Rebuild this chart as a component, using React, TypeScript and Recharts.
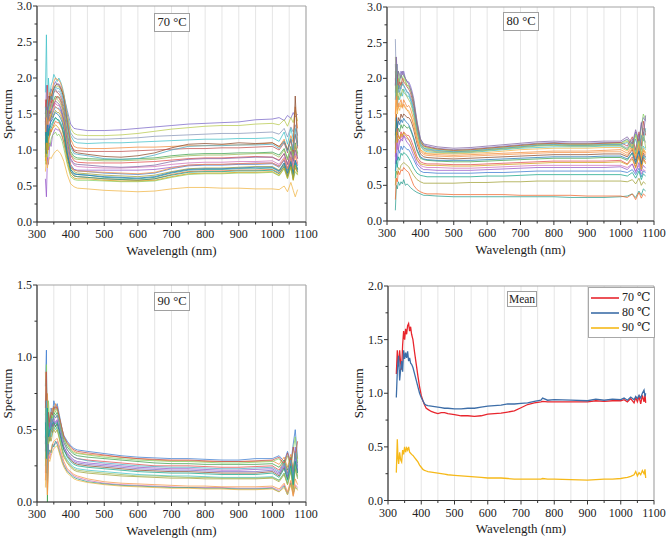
import React from 'react';
import { LineChart, Line, XAxis, YAxis, CartesianGrid, ReferenceArea, Legend } from 'recharts';

// ---------- data ----------
const wavelengths = [325, 328, 331, 334, 338, 342, 346, 350, 355, 360, 365, 370, 375, 380, 390, 400, 410, 420, 450, 500, 550, 600, 650, 700, 750, 800, 850, 900, 950, 1000, 1020, 1035, 1045, 1055, 1062, 1068, 1075];

const spectra70 = [
  [1.5, 1.9, 1.6, 1.75, 1.7, 1.85, 1.8, 1.9, 1.95, 1.9, 1.92, 1.88, 1.82, 1.75, 1.55, 1.36, 1.3, 1.29, 1.27, 1.27, 1.28, 1.3, 1.32, 1.34, 1.36, 1.37, 1.38, 1.39, 1.42, 1.43, 1.45, 1.41, 1.48, 1.44, 1.52, 1.46, 1.5],
  [1.3, 1.6, 1.45, 1.7, 1.6, 1.75, 1.8, 1.85, 1.9, 1.88, 1.88, 1.85, 1.8, 1.72, 1.5, 1.3, 1.23, 1.21, 1.2, 1.2, 1.21, 1.23, 1.26, 1.29, 1.31, 1.33, 1.34, 1.34, 1.36, 1.37, 1.35, 1.42, 1.33, 1.45, 1.38, 1.55, 1.4],
  [1.4, 1.2, 1.55, 1.5, 1.65, 1.6, 1.7, 1.8, 1.85, 1.8, 1.82, 1.78, 1.72, 1.65, 1.42, 1.24, 1.17, 1.15, 1.15, 1.15, 1.16, 1.17, 1.19, 1.2, 1.21, 1.22, 1.23, 1.23, 1.24, 1.25, 1.22, 1.3, 1.18, 1.32, 1.25, 1.35, 1.2],
  [1.8, 2.6, 1.5, 2.0, 1.7, 1.9, 1.95, 2.05, 2.0, 1.95, 2.0, 1.95, 1.88, 1.78, 1.5, 1.2, 1.12, 1.1, 1.09, 1.1, 1.1, 1.11, 1.12, 1.13, 1.14, 1.15, 1.15, 1.16, 1.16, 1.17, 1.12, 1.25, 1.08, 1.3, 1.15, 1.2, 1.1],
  [1.6, 1.3, 1.7, 1.5, 1.8, 1.7, 1.85, 1.95, 2.0, 1.98, 1.97, 1.93, 1.85, 1.75, 1.45, 1.15, 1.05, 1.03, 1.02, 1.02, 1.03, 1.04, 1.04, 1.05, 1.06, 1.06, 1.07, 1.07, 1.08, 1.1, 1.04, 1.15, 1.0, 1.2, 1.1, 1.6, 1.3],
  [1.5, 1.7, 1.4, 1.6, 1.75, 1.7, 1.8, 1.85, 1.9, 1.92, 1.9, 1.86, 1.8, 1.7, 1.38, 1.08, 0.98, 0.96, 0.94, 0.91, 0.9, 0.92, 0.96, 1.03, 1.08, 1.09, 1.08, 1.1, 1.09, 1.1, 1.05, 1.12, 1.0, 1.15, 0.95, 1.75, 1.05],
  [1.2, 1.5, 1.35, 1.45, 1.55, 1.5, 1.6, 1.7, 1.75, 1.72, 1.74, 1.7, 1.64, 1.55, 1.25, 0.98, 0.91, 0.89, 0.88, 0.87, 0.87, 0.88, 0.89, 0.92, 0.94, 0.95, 0.95, 0.96, 0.96, 0.97, 0.93, 1.02, 0.88, 1.05, 0.9, 1.1, 0.95],
  [1.7, 1.4, 1.9, 1.6, 1.5, 1.65, 1.7, 1.6, 1.7, 1.75, 1.72, 1.68, 1.6, 1.5, 1.2, 0.93, 0.85, 0.83, 0.82, 0.82, 0.82, 0.83, 0.84, 0.86, 0.88, 0.89, 0.89, 0.9, 0.91, 0.9, 0.86, 0.95, 0.8, 0.98, 0.85, 1.05, 0.88],
  [1.3, 1.1, 1.5, 1.3, 1.45, 1.4, 1.55, 1.6, 1.65, 1.62, 1.62, 1.58, 1.5, 1.4, 1.12, 0.86, 0.79, 0.77, 0.76, 0.75, 0.75, 0.76, 0.77, 0.8, 0.82, 0.83, 0.83, 0.84, 0.84, 0.85, 0.8, 0.9, 0.75, 0.92, 0.8, 0.95, 0.82],
  [1.0, 1.4, 1.2, 1.35, 1.3, 1.45, 1.5, 1.55, 1.6, 1.58, 1.58, 1.55, 1.48, 1.38, 1.05, 0.8, 0.73, 0.71, 0.7, 0.68, 0.67, 0.66, 0.68, 0.74, 0.78, 0.79, 0.79, 0.8, 0.8, 0.81, 0.76, 0.86, 0.72, 0.9, 0.75, 0.85, 0.78],
  [1.4, 1.0, 1.3, 1.5, 1.4, 1.5, 1.45, 1.5, 1.55, 1.52, 1.52, 1.48, 1.42, 1.32, 1.0, 0.76, 0.7, 0.68, 0.67, 0.65, 0.64, 0.63, 0.65, 0.7, 0.74, 0.75, 0.75, 0.76, 0.77, 0.77, 0.72, 0.82, 0.7, 0.85, 0.68, 0.8, 0.74],
  [0.9, 1.2, 1.0, 1.3, 1.2, 1.3, 1.35, 1.4, 1.45, 1.42, 1.42, 1.38, 1.32, 1.22, 0.95, 0.73, 0.67, 0.66, 0.65, 0.62, 0.61, 0.6, 0.62, 0.68, 0.72, 0.73, 0.73, 0.74, 0.74, 0.75, 0.7, 0.8, 0.66, 0.82, 0.7, 0.78, 0.72],
  [1.1, 0.8, 1.2, 1.0, 1.3, 1.25, 1.3, 1.35, 1.4, 1.38, 1.38, 1.34, 1.28, 1.18, 0.9, 0.7, 0.64, 0.63, 0.62, 0.6, 0.59, 0.58, 0.6, 0.66, 0.7, 0.71, 0.71, 0.72, 0.72, 0.73, 0.68, 0.78, 0.64, 0.8, 0.62, 0.75, 0.7],
  [0.6, 0.35, 0.9, 0.8, 1.1, 1.05, 1.2, 1.25, 1.3, 1.28, 1.28, 1.24, 1.18, 1.1, 0.92, 0.77, 0.73, 0.72, 0.72, 0.72, 0.72, 0.72, 0.73, 0.76, 0.79, 0.8, 0.8, 0.81, 0.82, 0.82, 0.78, 0.86, 0.74, 0.88, 0.76, 0.84, 0.8],
  [0.8, 1.0, 0.9, 1.1, 1.05, 1.15, 1.2, 1.22, 1.25, 1.2, 1.22, 1.18, 1.12, 1.02, 0.8, 0.63, 0.59, 0.58, 0.58, 0.57, 0.56, 0.56, 0.57, 0.62, 0.66, 0.67, 0.67, 0.68, 0.68, 0.69, 0.64, 0.74, 0.6, 0.76, 0.58, 0.7, 0.65],
  [0.7, 0.9, 0.75, 0.85, 0.9, 0.88, 0.92, 0.95, 0.98, 1.0, 0.98, 0.95, 0.9, 0.84, 0.66, 0.53, 0.49, 0.47, 0.46, 0.44, 0.43, 0.42, 0.43, 0.46, 0.48, 0.48, 0.47, 0.47, 0.46, 0.46, 0.45, 0.5, 0.42, 0.55, 0.44, 0.35, 0.45],
  [1.35, 1.65, 1.5, 1.6, 1.7, 1.65, 1.75, 1.8, 1.82, 1.8, 1.78, 1.74, 1.68, 1.6, 1.35, 1.08, 1.0, 0.99, 0.98, 0.98, 0.98, 0.99, 1.0, 1.01, 1.02, 1.02, 1.03, 1.03, 1.04, 1.05, 1.0, 1.1, 0.96, 1.14, 0.98, 1.22, 1.02],
  [1.6, 1.35, 1.7, 1.55, 1.65, 1.75, 1.7, 1.82, 1.88, 1.85, 1.86, 1.82, 1.76, 1.66, 1.34, 1.04, 0.95, 0.94, 0.92, 0.88, 0.87, 0.88, 0.93, 1.0, 1.05, 1.06, 1.06, 1.07, 1.07, 1.08, 1.02, 1.12, 0.98, 1.16, 1.0, 1.3, 1.06],
  [1.25, 1.55, 1.4, 1.5, 1.6, 1.58, 1.65, 1.7, 1.72, 1.7, 1.68, 1.64, 1.58, 1.48, 1.18, 0.95, 0.88, 0.87, 0.86, 0.85, 0.85, 0.86, 0.87, 0.9, 0.92, 0.93, 0.93, 0.94, 0.95, 0.95, 0.9, 1.0, 0.86, 1.03, 0.88, 1.08, 0.92],
  [1.45, 1.2, 1.6, 1.4, 1.5, 1.55, 1.6, 1.65, 1.68, 1.66, 1.64, 1.6, 1.52, 1.42, 1.12, 0.88, 0.81, 0.8, 0.79, 0.77, 0.76, 0.77, 0.79, 0.84, 0.87, 0.88, 0.88, 0.89, 0.9, 0.9, 0.85, 0.95, 0.8, 0.98, 0.84, 1.0, 0.88],
  [1.15, 1.45, 1.3, 1.4, 1.45, 1.5, 1.52, 1.58, 1.6, 1.58, 1.56, 1.52, 1.45, 1.35, 1.02, 0.78, 0.72, 0.71, 0.7, 0.69, 0.68, 0.67, 0.69, 0.75, 0.79, 0.8, 0.8, 0.81, 0.81, 0.82, 0.77, 0.88, 0.74, 0.9, 0.72, 0.92, 0.8],
  [1.25, 0.95, 1.35, 1.2, 1.35, 1.4, 1.42, 1.48, 1.52, 1.5, 1.48, 1.44, 1.38, 1.28, 0.96, 0.73, 0.67, 0.66, 0.65, 0.63, 0.62, 0.61, 0.63, 0.69, 0.73, 0.74, 0.74, 0.75, 0.76, 0.76, 0.71, 0.82, 0.68, 0.84, 0.66, 0.86, 0.73],
  [0.95, 1.25, 1.1, 1.25, 1.3, 1.35, 1.38, 1.42, 1.45, 1.43, 1.4, 1.36, 1.3, 1.2, 0.9, 0.7, 0.64, 0.63, 0.62, 0.6, 0.59, 0.58, 0.6, 0.65, 0.69, 0.7, 0.7, 0.71, 0.71, 0.72, 0.67, 0.77, 0.63, 0.79, 0.6, 0.82, 0.69],
  [0.85, 1.1, 0.95, 1.15, 1.2, 1.25, 1.3, 1.32, 1.35, 1.33, 1.3, 1.26, 1.2, 1.1, 0.84, 0.66, 0.61, 0.6, 0.6, 0.58, 0.57, 0.57, 0.58, 0.63, 0.67, 0.68, 0.68, 0.69, 0.69, 0.7, 0.65, 0.75, 0.61, 0.77, 0.58, 0.79, 0.66],
];

const spectra80 = [
  [2.2, 1.8, 2.1, 1.9, 2.0, 2.1, 2.05, 2.1, 2.0, 1.95, 1.95, 1.9, 1.82, 1.72, 1.4, 1.15, 1.07, 1.05, 1.02, 1.0, 1.01, 1.03, 1.05, 1.07, 1.09, 1.1, 1.09, 1.09, 1.1, 1.1, 1.15, 1.05, 1.25, 1.1, 1.35, 1.45, 1.4],
  [2.3, 2.0, 1.7, 2.0, 1.85, 1.95, 1.9, 2.0, 1.95, 1.9, 1.9, 1.85, 1.78, 1.68, 1.36, 1.12, 1.04, 1.02, 1.0, 0.98, 0.99, 1.01, 1.03, 1.05, 1.07, 1.08, 1.07, 1.07, 1.08, 1.08, 1.12, 1.0, 1.2, 1.05, 1.15, 1.3, 1.25],
  [2.55, 1.9, 2.2, 1.8, 1.9, 1.85, 1.95, 1.9, 1.85, 1.8, 1.8, 1.75, 1.68, 1.58, 1.3, 1.09, 1.02, 1.0, 0.98, 0.97, 0.98, 1.0, 1.02, 1.04, 1.06, 1.07, 1.06, 1.06, 1.07, 1.07, 1.02, 1.15, 0.98, 1.22, 1.0, 1.18, 1.1],
  [1.8, 2.1, 1.6, 1.75, 1.7, 1.8, 1.75, 1.85, 1.8, 1.75, 1.75, 1.7, 1.62, 1.52, 1.25, 1.05, 0.99, 0.97, 0.96, 0.95, 0.96, 0.98, 1.0, 1.02, 1.03, 1.04, 1.04, 1.04, 1.05, 1.05, 1.0, 1.1, 0.95, 1.12, 0.9, 1.05, 1.0],
  [1.5, 1.9, 1.7, 1.6, 1.65, 1.7, 1.6, 1.7, 1.65, 1.6, 1.62, 1.58, 1.5, 1.42, 1.18, 1.0, 0.95, 0.94, 0.93, 0.92, 0.93, 0.94, 0.95, 0.96, 0.97, 0.98, 0.98, 0.98, 0.99, 1.0, 0.95, 1.05, 0.9, 1.08, 0.88, 1.0, 0.95],
  [1.2, 1.5, 1.3, 1.45, 1.4, 1.5, 1.45, 1.5, 1.48, 1.45, 1.45, 1.42, 1.36, 1.28, 1.08, 0.94, 0.9, 0.89, 0.88, 0.87, 0.88, 0.89, 0.9, 0.91, 0.92, 0.93, 0.93, 0.93, 0.94, 0.94, 0.9, 1.0, 0.85, 1.02, 0.82, 0.95, 0.9],
  [1.0, 1.4, 1.2, 1.3, 1.25, 1.35, 1.3, 1.35, 1.33, 1.3, 1.32, 1.28, 1.22, 1.15, 0.98, 0.88, 0.86, 0.85, 0.84, 0.83, 0.83, 0.84, 0.85, 0.86, 0.87, 0.88, 0.88, 0.88, 0.89, 0.89, 0.85, 0.95, 0.8, 0.97, 0.78, 0.9, 0.86],
  [0.9, 1.2, 1.3, 1.2, 1.15, 1.25, 1.2, 1.25, 1.22, 1.2, 1.2, 1.16, 1.1, 1.04, 0.9, 0.83, 0.81, 0.8, 0.8, 0.79, 0.79, 0.8, 0.81, 0.82, 0.83, 0.84, 0.84, 0.84, 0.84, 0.85, 0.8, 0.9, 0.76, 0.92, 0.75, 0.88, 0.82],
  [0.8, 1.1, 1.0, 1.15, 1.1, 1.2, 1.15, 1.2, 1.18, 1.15, 1.15, 1.1, 1.04, 0.98, 0.85, 0.78, 0.76, 0.75, 0.75, 0.74, 0.74, 0.75, 0.76, 0.77, 0.78, 0.78, 0.78, 0.78, 0.78, 0.78, 0.75, 0.8, 0.7, 0.78, 0.66, 0.72, 0.7],
  [0.7, 0.95, 0.85, 1.0, 0.95, 1.05, 1.0, 1.05, 1.03, 1.0, 1.0, 0.96, 0.91, 0.86, 0.76, 0.7, 0.68, 0.68, 0.67, 0.67, 0.67, 0.68, 0.68, 0.69, 0.7, 0.7, 0.7, 0.7, 0.7, 0.7, 0.68, 0.72, 0.65, 0.74, 0.62, 0.7, 0.68],
  [0.5, 0.7, 0.65, 0.75, 0.72, 0.78, 0.8, 0.82, 0.8, 0.78, 0.76, 0.72, 0.68, 0.64, 0.58, 0.55, 0.53, 0.53, 0.53, 0.53, 0.54, 0.54, 0.55, 0.55, 0.56, 0.56, 0.56, 0.56, 0.56, 0.56, 0.55, 0.58, 0.52, 0.6, 0.5, 0.55, 0.52],
  [0.15, 0.5, 0.45, 0.55, 0.5, 0.55, 0.52, 0.58, 0.5, 0.52, 0.5, 0.47, 0.45, 0.43, 0.4, 0.38, 0.36, 0.36, 0.35, 0.34, 0.34, 0.34, 0.34, 0.34, 0.34, 0.34, 0.33, 0.33, 0.33, 0.34, 0.35, 0.38, 0.33, 0.42, 0.36, 0.45, 0.42],
  [0.3, 0.6, 0.55, 0.7, 0.65, 0.72, 0.7, 0.75, 0.72, 0.7, 0.68, 0.62, 0.56, 0.5, 0.44, 0.41, 0.39, 0.38, 0.38, 0.37, 0.37, 0.37, 0.37, 0.36, 0.36, 0.36, 0.36, 0.35, 0.35, 0.35, 0.33, 0.38, 0.3, 0.4, 0.32, 0.38, 0.35],
  [1.1, 0.8, 1.2, 1.0, 1.1, 1.15, 1.12, 1.2, 1.15, 1.1, 1.08, 1.04, 0.98, 0.92, 0.8, 0.75, 0.72, 0.72, 0.71, 0.71, 0.71, 0.72, 0.73, 0.74, 0.75, 0.75, 0.75, 0.75, 0.75, 0.76, 0.72, 0.8, 0.68, 0.82, 0.7, 0.78, 0.74],
  [1.9, 2.2, 1.9, 2.1, 1.95, 2.05, 2.0, 2.05, 1.98, 1.9, 1.88, 1.84, 1.76, 1.65, 1.35, 1.13, 1.06, 1.03, 1.01, 0.99, 1.0, 1.02, 1.04, 1.06, 1.08, 1.09, 1.08, 1.08, 1.09, 1.09, 1.14, 1.03, 1.22, 1.08, 1.3, 1.5, 1.42],
  [1.3, 1.7, 1.5, 1.6, 1.55, 1.65, 1.6, 1.62, 1.58, 1.55, 1.55, 1.5, 1.43, 1.35, 1.14, 1.0, 0.97, 0.95, 0.95, 0.94, 0.95, 0.96, 0.98, 1.0, 1.01, 1.02, 1.02, 1.02, 1.03, 1.03, 0.98, 1.08, 0.92, 1.1, 0.88, 1.02, 0.96],
  [2.0, 1.7, 2.05, 1.85, 1.95, 1.9, 2.0, 1.95, 1.92, 1.88, 1.85, 1.8, 1.72, 1.62, 1.32, 1.11, 1.05, 1.04, 1.01, 0.99, 1.0, 1.02, 1.04, 1.06, 1.08, 1.09, 1.08, 1.08, 1.09, 1.1, 1.05, 1.18, 1.0, 1.25, 1.05, 1.4, 1.2],
  [1.7, 2.0, 1.8, 1.9, 1.8, 1.88, 1.92, 1.9, 1.86, 1.82, 1.78, 1.72, 1.65, 1.55, 1.28, 1.08, 1.02, 1.01, 0.99, 0.97, 0.98, 1.0, 1.02, 1.04, 1.06, 1.07, 1.06, 1.06, 1.07, 1.07, 1.1, 1.02, 1.15, 0.98, 1.2, 1.12, 1.3],
  [2.1, 1.75, 1.9, 1.7, 1.8, 1.75, 1.85, 1.8, 1.78, 1.74, 1.7, 1.66, 1.58, 1.48, 1.24, 1.06, 1.0, 0.99, 0.97, 0.96, 0.97, 0.99, 1.01, 1.03, 1.05, 1.06, 1.05, 1.05, 1.06, 1.06, 1.0, 1.12, 0.94, 1.15, 0.92, 1.25, 1.02],
  [1.9, 2.3, 2.0, 2.1, 2.05, 2.0, 2.1, 2.05, 2.0, 1.96, 1.92, 1.86, 1.78, 1.68, 1.38, 1.15, 1.08, 1.07, 1.04, 1.02, 1.03, 1.05, 1.07, 1.09, 1.11, 1.12, 1.11, 1.11, 1.12, 1.12, 1.18, 1.08, 1.28, 1.12, 1.38, 1.2, 1.48],
  [1.4, 1.75, 1.55, 1.65, 1.6, 1.62, 1.58, 1.64, 1.6, 1.56, 1.52, 1.48, 1.42, 1.34, 1.13, 0.98, 0.93, 0.92, 0.91, 0.9, 0.91, 0.92, 0.93, 0.94, 0.95, 0.96, 0.96, 0.96, 0.97, 0.97, 0.92, 1.02, 0.88, 1.05, 0.85, 0.98, 0.93],
  [1.1, 1.45, 1.3, 1.4, 1.35, 1.42, 1.38, 1.44, 1.4, 1.38, 1.35, 1.3, 1.24, 1.17, 1.0, 0.9, 0.87, 0.86, 0.85, 0.85, 0.85, 0.86, 0.87, 0.88, 0.89, 0.9, 0.9, 0.9, 0.91, 0.91, 0.87, 0.96, 0.82, 0.98, 0.8, 0.92, 0.88],
  [0.6, 0.85, 0.75, 0.9, 0.85, 0.95, 0.92, 0.96, 0.94, 0.92, 0.88, 0.84, 0.79, 0.74, 0.67, 0.64, 0.63, 0.62, 0.62, 0.62, 0.62, 0.63, 0.63, 0.64, 0.65, 0.65, 0.65, 0.65, 0.65, 0.65, 0.63, 0.68, 0.6, 0.7, 0.58, 0.66, 0.63],
  [0.95, 1.25, 1.1, 1.2, 1.15, 1.22, 1.18, 1.24, 1.2, 1.18, 1.14, 1.1, 1.04, 0.98, 0.86, 0.8, 0.79, 0.78, 0.78, 0.77, 0.77, 0.78, 0.79, 0.8, 0.81, 0.82, 0.82, 0.82, 0.82, 0.83, 0.79, 0.87, 0.74, 0.9, 0.72, 0.86, 0.8],
];

const spectra90 = [
  [0.8, 1.05, 0.2, 0.6, 0.5, 0.65, 0.6, 0.7, 0.65, 0.68, 0.62, 0.56, 0.5, 0.46, 0.42, 0.39, 0.37, 0.36, 0.35, 0.335, 0.32, 0.31, 0.305, 0.3, 0.3, 0.295, 0.29, 0.29, 0.3, 0.3, 0.32, 0.28, 0.35, 0.27, 0.4, 0.5, 0.3],
  [0.9, 0.6, 0.75, 0.5, 0.55, 0.6, 0.65, 0.62, 0.68, 0.64, 0.6, 0.55, 0.5, 0.45, 0.4, 0.37, 0.35, 0.34, 0.33, 0.32, 0.31, 0.3, 0.29, 0.285, 0.285, 0.28, 0.28, 0.28, 0.28, 0.285, 0.26, 0.31, 0.24, 0.33, 0.22, 0.35, 0.3],
  [0.6, 0.75, 0.0, 0.55, 0.45, 0.6, 0.55, 0.62, 0.6, 0.62, 0.58, 0.52, 0.47, 0.43, 0.38, 0.35, 0.33, 0.32, 0.31, 0.3, 0.29, 0.28, 0.27, 0.265, 0.265, 0.26, 0.26, 0.26, 0.26, 0.265, 0.24, 0.29, 0.22, 0.31, 0.2, 0.33, 0.27],
  [0.5, 0.85, 0.3, 0.6, 0.5, 0.58, 0.52, 0.6, 0.58, 0.6, 0.55, 0.5, 0.45, 0.41, 0.36, 0.33, 0.31, 0.3, 0.29, 0.28, 0.27, 0.26, 0.25, 0.25, 0.25, 0.245, 0.24, 0.24, 0.245, 0.25, 0.22, 0.28, 0.2, 0.3, 0.18, 0.32, 0.25],
  [0.7, 0.4, 0.6, 0.45, 0.55, 0.52, 0.56, 0.58, 0.55, 0.57, 0.52, 0.47, 0.42, 0.38, 0.34, 0.31, 0.29, 0.28, 0.27, 0.26, 0.25, 0.24, 0.235, 0.23, 0.23, 0.225, 0.22, 0.22, 0.225, 0.23, 0.2, 0.26, 0.18, 0.28, 0.15, 0.3, 0.22],
  [0.4, 0.7, 0.1, 0.5, 0.42, 0.5, 0.48, 0.55, 0.52, 0.54, 0.5, 0.45, 0.4, 0.36, 0.32, 0.29, 0.27, 0.26, 0.25, 0.24, 0.23, 0.22, 0.215, 0.21, 0.21, 0.205, 0.2, 0.2, 0.2, 0.21, 0.18, 0.24, 0.16, 0.26, 0.14, 0.28, 0.2],
  [0.3, 0.55, 0.5, 0.45, 0.48, 0.45, 0.5, 0.52, 0.5, 0.52, 0.47, 0.42, 0.37, 0.33, 0.29, 0.26, 0.24, 0.23, 0.22, 0.21, 0.2, 0.19, 0.185, 0.18, 0.18, 0.175, 0.17, 0.17, 0.17, 0.175, 0.15, 0.2, 0.13, 0.22, 0.1, 0.24, 0.17],
  [0.45, 0.3, 0.55, 0.4, 0.45, 0.42, 0.47, 0.5, 0.48, 0.5, 0.45, 0.4, 0.35, 0.31, 0.27, 0.24, 0.22, 0.21, 0.2, 0.19, 0.18, 0.175, 0.17, 0.165, 0.165, 0.16, 0.16, 0.16, 0.16, 0.165, 0.14, 0.19, 0.12, 0.21, 0.09, 0.23, 0.16],
  [0.2, 0.5, 0.1, 0.35, 0.3, 0.35, 0.38, 0.4, 0.4, 0.42, 0.38, 0.34, 0.3, 0.26, 0.22, 0.2, 0.18, 0.17, 0.15, 0.13, 0.12, 0.115, 0.11, 0.105, 0.1, 0.1, 0.1, 0.095, 0.095, 0.1, 0.08, 0.12, 0.06, 0.14, 0.04, 0.12, 0.1],
  [0.3, 0.2, 0.4, 0.32, 0.36, 0.34, 0.4, 0.38, 0.42, 0.4, 0.36, 0.32, 0.28, 0.25, 0.21, 0.19, 0.17, 0.16, 0.14, 0.125, 0.115, 0.11, 0.105, 0.1, 0.1, 0.095, 0.095, 0.09, 0.09, 0.095, 0.07, 0.11, 0.05, 0.13, 0.06, 0.1, 0.09],
  [0.1, 0.35, 0.05, 0.3, 0.28, 0.32, 0.35, 0.37, 0.38, 0.39, 0.35, 0.31, 0.27, 0.24, 0.2, 0.18, 0.16, 0.15, 0.135, 0.12, 0.11, 0.105, 0.1, 0.095, 0.095, 0.09, 0.09, 0.085, 0.085, 0.09, 0.07, 0.1, 0.05, 0.12, 0.04, 0.11, 0.08],
  [0.55, 0.95, 0.4, 0.7, 0.55, 0.62, 0.58, 0.66, 0.62, 0.65, 0.6, 0.54, 0.49, 0.44, 0.4, 0.36, 0.34, 0.335, 0.325, 0.31, 0.3, 0.29, 0.285, 0.28, 0.28, 0.275, 0.27, 0.27, 0.275, 0.28, 0.3, 0.25, 0.32, 0.24, 0.36, 0.45, 0.28],
  [0.35, 0.6, 0.2, 0.5, 0.45, 0.55, 0.5, 0.56, 0.54, 0.56, 0.52, 0.47, 0.42, 0.38, 0.33, 0.3, 0.28, 0.27, 0.26, 0.25, 0.24, 0.23, 0.225, 0.22, 0.22, 0.215, 0.21, 0.21, 0.21, 0.22, 0.19, 0.25, 0.17, 0.27, 0.13, 0.38, 0.21],
  [0.65, 0.9, 0.3, 0.62, 0.55, 0.62, 0.6, 0.66, 0.64, 0.66, 0.6, 0.55, 0.5, 0.45, 0.41, 0.38, 0.36, 0.35, 0.34, 0.325, 0.31, 0.3, 0.295, 0.29, 0.29, 0.285, 0.28, 0.28, 0.285, 0.29, 0.31, 0.26, 0.34, 0.25, 0.38, 0.3, 0.42],
  [0.45, 0.7, 0.15, 0.52, 0.48, 0.58, 0.54, 0.6, 0.58, 0.6, 0.56, 0.5, 0.45, 0.41, 0.36, 0.33, 0.31, 0.3, 0.285, 0.27, 0.26, 0.25, 0.245, 0.24, 0.24, 0.235, 0.23, 0.23, 0.235, 0.24, 0.21, 0.27, 0.19, 0.29, 0.16, 0.34, 0.24],
  [0.25, 0.45, 0.6, 0.4, 0.45, 0.48, 0.52, 0.5, 0.53, 0.5, 0.46, 0.41, 0.36, 0.32, 0.28, 0.25, 0.23, 0.22, 0.21, 0.2, 0.19, 0.18, 0.18, 0.175, 0.17, 0.17, 0.165, 0.165, 0.165, 0.17, 0.15, 0.2, 0.12, 0.23, 0.08, 0.26, 0.18],
  [0.15, 0.4, 0.05, 0.32, 0.34, 0.36, 0.4, 0.42, 0.43, 0.44, 0.4, 0.36, 0.32, 0.28, 0.23, 0.21, 0.19, 0.18, 0.16, 0.14, 0.13, 0.125, 0.12, 0.115, 0.11, 0.11, 0.105, 0.105, 0.105, 0.11, 0.09, 0.13, 0.07, 0.15, 0.05, 0.16, 0.12],
  [0.55, 0.3, 0.65, 0.45, 0.5, 0.5, 0.54, 0.55, 0.52, 0.55, 0.5, 0.45, 0.4, 0.36, 0.31, 0.28, 0.26, 0.25, 0.24, 0.23, 0.22, 0.21, 0.205, 0.2, 0.2, 0.195, 0.19, 0.19, 0.19, 0.2, 0.17, 0.23, 0.15, 0.25, 0.12, 0.28, 0.2],
];

const meanWavelengths = [325, 328, 330, 332, 335, 338, 341, 344, 347, 350, 353, 356, 359, 362, 365, 368, 371, 375, 380, 385, 390, 395, 400, 405, 410, 415, 420, 430, 440, 450, 460, 470, 480, 500, 520, 540, 560, 580, 600, 620, 640, 660, 680, 700, 720, 740, 760, 765, 780, 800, 850, 900, 925, 950, 975, 1000, 1010, 1020, 1030, 1040, 1045, 1050, 1055, 1060, 1065, 1070, 1073, 1075];
const mean70 = [1.18, 1.4, 1.3, 1.25, 1.4, 1.28, 1.22, 1.45, 1.58, 1.5, 1.6, 1.55, 1.63, 1.65, 1.58, 1.62, 1.55, 1.5, 1.38, 1.27, 1.16, 1.06, 0.98, 0.93, 0.89, 0.86, 0.85, 0.83, 0.82, 0.81, 0.82, 0.82, 0.81, 0.8, 0.79, 0.79, 0.785, 0.79, 0.805, 0.81, 0.815, 0.825, 0.835, 0.865, 0.895, 0.91, 0.92, 0.925, 0.92, 0.92, 0.92, 0.92, 0.93, 0.925, 0.93, 0.93, 0.94, 0.92, 0.95, 0.91, 0.96, 0.92, 0.97, 0.9, 0.98, 0.92, 0.99, 0.91];
const mean80 = [0.96, 1.2, 1.3, 1.35, 1.12, 1.22, 1.3, 1.2, 1.4, 1.32, 1.38, 1.33, 1.39, 1.3, 1.33, 1.28, 1.27, 1.24, 1.18, 1.12, 1.06, 1.0, 0.96, 0.93, 0.9, 0.89, 0.885, 0.88, 0.875, 0.87, 0.865, 0.86, 0.86, 0.855, 0.855, 0.86, 0.86, 0.87, 0.88, 0.885, 0.89, 0.9, 0.9, 0.905, 0.91, 0.925, 0.935, 0.955, 0.935, 0.94, 0.935, 0.93, 0.945, 0.935, 0.945, 0.94, 0.955, 0.935, 0.965, 0.94, 0.97, 0.95, 0.98, 0.955, 1.0, 1.03, 0.97, 1.0];
const mean90 = [0.26, 0.57, 0.4, 0.34, 0.45, 0.38, 0.36, 0.47, 0.43, 0.5, 0.45, 0.49, 0.47, 0.5, 0.45, 0.44, 0.43, 0.42, 0.4, 0.38, 0.36, 0.33, 0.31, 0.29, 0.28, 0.275, 0.27, 0.265, 0.26, 0.255, 0.25, 0.245, 0.24, 0.235, 0.23, 0.225, 0.22, 0.215, 0.21, 0.21, 0.21, 0.205, 0.2, 0.2, 0.2, 0.2, 0.2, 0.205, 0.2, 0.2, 0.195, 0.19, 0.195, 0.2, 0.2, 0.205, 0.21, 0.215, 0.225, 0.24, 0.27, 0.23, 0.26, 0.24, 0.28, 0.25, 0.29, 0.21];
const meanNames = ['70 ℃', '80 ℃', '90 ℃'];

const xTicks = [300, 350, 400, 450, 500, 550, 600, 650, 700, 750, 800, 850, 900, 950, 1000, 1050, 1100];
const yTicks30 = [0, 0.25, 0.5, 0.75, 1, 1.25, 1.5, 1.75, 2, 2.25, 2.5, 2.75, 3];
const yTicks15 = [0, 0.25, 0.5, 0.75, 1, 1.25, 1.5];
const yTicks20 = [0, 0.25, 0.5, 0.75, 1, 1.25, 1.5, 1.75, 2];

// ---------- styling ----------
const FONT = '"Liberation Serif", "Times New Roman", "DejaVu Serif", serif';
const palette = ['#7b68c8', '#b8c94d', '#8795b8', '#40c0c8', '#f28a3a', '#8b4a2b', '#3da24c', '#e24b4b', '#d070b8', '#3b7bd0', '#a0a035', '#2a9d8f', '#f0652a', '#9657c9', '#86cf63', '#f0b545', '#c0504d', '#4bacc6', '#9bbb59', '#8064a2', '#f79646', '#1f77b4', '#17a589', '#d4a017'];
const palette90 = ['#3b7bd0', '#f28a3a', '#3da24c', '#e24b4b', '#9657c9', '#8b4a2b', '#40c0c8', '#a0a035', '#d070b8', '#2a9d8f', '#f0b545', '#86cf63', '#7b68c8', '#c0504d', '#4bacc6', '#9bbb59', '#f79646', '#17a589'];
const meanColors = ['#e8262e', '#3d6ea8', '#f6b91a'];

function buildRows(ws: number[], series: number[][]) {
  return ws.map((w, i) => {
    const row: Record<string, number> = { w };
    series.forEach((s, j) => {
      row['s' + j] = s[i];
    });
    return row;
  });
}

const XTick = (props: any) => {
  const { x, y, payload } = props;
  const v = payload.value;
  const major = v % 100 === 0;
  return (
    <g>
      <line x1={x} x2={x} y1={y} y2={y + (major ? 4 : 2.5)} stroke="#333" strokeWidth={1} />
      {major && (
        <text x={x} y={y + 16} textAnchor="middle" fontSize={12} fontFamily={FONT} fill="#222">
          {v}
        </text>
      )}
    </g>
  );
};

const YTick = (props: any) => {
  const { x, y, payload } = props;
  const v = payload.value;
  const major = Math.abs(v * 2 - Math.round(v * 2)) < 1e-6;
  return (
    <g>
      <line x1={x - (major ? 4 : 2.5)} x2={x} y1={y} y2={y} stroke="#333" strokeWidth={1} />
      {major && (
        <text x={x - 5} y={y + 4} textAnchor="end" fontSize={12} fontFamily={FONT} fill="#222">
          {v.toFixed(1)}
        </text>
      )}
    </g>
  );
};

type Plot = { l: number; t: number; r: number; b: number };

type PanelProps = {
  left: number;
  top: number;
  width: number;
  height: number;
  plot: Plot;
  rows: any[];
  count: number;
  colors: string[];
  names?: string[];
  yMax: number;
  yTicks: number[];
  strokeWidth: number;
  legendAt?: { left: number; top: number };
};

const renderMeanLegend = (props: any) => (
  <div
    style={{
      border: '1px solid #a8a8a8',
      background: '#fff',
      padding: '2px 4px 2px 2px',
      fontFamily: FONT,
      fontSize: 12,
      lineHeight: '15px',
      color: '#222',
    }}
  >
    {(props.payload || []).map((e: any) => (
      <div key={e.value} style={{ display: 'flex', alignItems: 'center', whiteSpace: 'nowrap', height: 15 }}>
        <svg width={28} height={6} style={{ display: 'block' }}>
          <line x1={0} x2={28} y1={3} y2={3} stroke={e.color} strokeWidth={1.6} />
        </svg>
        <span style={{ marginLeft: 3 }}>{e.value}</span>
      </div>
    ))}
  </div>
);

function Panel(p: PanelProps) {
  const { plot } = p;
  const keys = Array.from({ length: p.count }, (_, i) => 's' + i);
  const midY = (plot.t + plot.b) / 2;
  const midX = (plot.l + plot.r) / 2;
  return (
    <div style={{ position: 'absolute', left: p.left, top: p.top, width: p.width, height: p.height }}>
      <LineChart
        width={p.width}
        height={p.height}
        data={p.rows}
        margin={{ top: plot.t, right: p.width - plot.r, bottom: p.height - plot.b - 30, left: plot.l - 30 }}
      >
        <CartesianGrid horizontal={false} stroke="#e2e2e2" strokeWidth={0.9} />
        <ReferenceArea x1={300} x2={1100} y1={0} y2={p.yMax} fill="none" stroke="#a3a3a3" strokeWidth={1} ifOverflow="visible" />
        <XAxis
          dataKey="w"
          type="number"
          domain={[300, 1100]}
          ticks={xTicks}
          interval={0}
          tickSize={0}
          tickMargin={0}
          tickLine={false}
          tick={(tp: any) => <XTick {...tp} />}
          height={30}
          axisLine={{ stroke: '#333', strokeWidth: 1 }}
          allowDataOverflow
          label={() => (
            <text x={midX} y={plot.b + 32.5} textAnchor="middle" fontSize={13} fontFamily={FONT} fill="#222">
              Wavelength (nm)
            </text>
          )}
        />
        <YAxis
          type="number"
          domain={[0, p.yMax]}
          ticks={p.yTicks}
          interval={0}
          tickSize={0}
          tickMargin={0}
          tickLine={false}
          tick={(tp: any) => <YTick {...tp} />}
          width={30}
          axisLine={{ stroke: '#333', strokeWidth: 1 }}
          allowDataOverflow
          label={() => (
            <text
              transform={`translate(${plot.l - 30 + 4.5}, ${midY}) rotate(-90)`}
              textAnchor="middle"
              fontSize={13}
              fontFamily={FONT}
              fill="#222"
            >
              Spectrum
            </text>
          )}
        />
        {p.legendAt && (
          <Legend
            layout="vertical"
            align="center"
            verticalAlign="middle"
            wrapperStyle={{ left: p.legendAt.left, top: p.legendAt.top, width: 'auto', height: 'auto' }}
            content={renderMeanLegend}
          />
        )}
        {keys.map((k, i) => (
          <Line
            key={k}
            dataKey={k}
            name={p.names ? p.names[i] : k}
            type="linear"
            stroke={p.colors[i % p.colors.length]}
            strokeWidth={p.strokeWidth}
            dot={false}
            activeDot={false}
            isAnimationActive={false}
            legendType="line"
          />
        ))}
      </LineChart>
    </div>
  );
}

const Note = ({ left, top, width, height, text, fontSize }: any) => (
  <div
    style={{
      position: 'absolute',
      left,
      top,
      width,
      height,
      boxSizing: 'border-box',
      border: '1px solid #a0a0a0',
      background: '#fff',
      fontFamily: FONT,
      fontSize,
      color: '#222',
      display: 'flex',
      alignItems: 'center',
      justifyContent: 'center',
      whiteSpace: 'nowrap',
    }}
  >
    {text}
  </div>
);

export default function App() {
  const rows70 = buildRows(wavelengths, spectra70);
  const rows80 = buildRows(wavelengths, spectra80);
  const rows90 = buildRows(wavelengths, spectra90);
  const rowsMean = buildRows(meanWavelengths, [mean70, mean80, mean90]);

  return (
    <div style={{ position: 'absolute', left: 0, top: 0, width: 669, height: 540, background: '#fff', overflow: 'hidden' }}>
      <Panel left={0} top={0} width={335} height={270} plot={{ l: 37, t: 6, r: 306, b: 222 }} rows={rows70} count={spectra70.length} colors={palette} yMax={3} yTicks={yTicks30} strokeWidth={0.75} />
      <Panel left={335} top={0} width={334} height={270} plot={{ l: 52, t: 7, r: 319, b: 221 }} rows={rows80} count={spectra80.length} colors={palette} yMax={3} yTicks={yTicks30} strokeWidth={0.75} />
      <Panel left={0} top={270} width={335} height={270} plot={{ l: 37, t: 15, r: 306, b: 232 }} rows={rows90} count={spectra90.length} colors={palette90} yMax={1.5} yTicks={yTicks15} strokeWidth={0.75} />
      <Panel left={335} top={270} width={334} height={270} plot={{ l: 53, t: 16, r: 319, b: 230.5 }} rows={rowsMean} count={3} colors={meanColors} names={meanNames} yMax={2} yTicks={yTicks20} strokeWidth={1.3} legendAt={{ left: 253, top: 17 }} />
      <Note left={154} top={13} width={36} height={19} text="70 °C" fontSize={12.5} />
      <Note left={503} top={12} width={36} height={19} text="80 °C" fontSize={12.5} />
      <Note left={154} top={292} width={36} height={19} text="90 °C" fontSize={12.5} />
      <Note left={507} top={291} width={30} height={16} text="Mean" fontSize={11.5} />
    </div>
  );
}
